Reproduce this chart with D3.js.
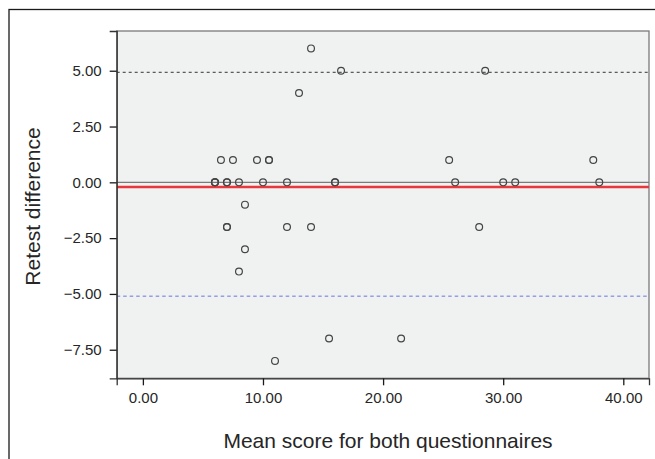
<!DOCTYPE html>
<html>
<head>
<meta charset="utf-8">
<script src="https://cdn.jsdelivr.net/npm/d3@7/dist/d3.min.js"></script>
<style>
  html, body { margin: 0; padding: 0; background: #ffffff; }
  svg { display: block; }
  text { font-family: "Liberation Sans", Arial, sans-serif; fill: #262626; }
</style>
</head>
<body>
<svg id="chart" width="655" height="459"></svg>
<script>
// ---- Data ----
const meanScore = [14, 13, 6.5, 7.5, 9.5, 10.5, 10.5, 6, 6, 6, 7, 7, 8, 10, 12,
                   8.5, 7, 7, 12, 14, 8.5, 8, 11,
                   16.5, 28.5, 25.5, 37.5, 16, 16, 26, 30, 31, 38, 28, 15.5, 21.5];
const retestDiff = [6, 4, 1, 1, 1, 1, 1, 0, 0, 0, 0, 0, 0, 0, 0,
                    -1, -2, -2, -2, -2, -3, -4, -8,
                    5, 5, 1, 1, 0, 0, 0, 0, 0, 0, -2, -7, -7];
const xTicks = [0, 10, 20, 30, 40];
const yTicks = [5, 2.5, 0, -2.5, -5, -7.5];
const zeroLine = 0;
const meanDifference = -0.21;
const upperLimit = 4.93;
const lowerLimit = -5.1;
const xTitle = "Mean score for both questionnaires";
const yTitle = "Retest difference";

// ---- Layout ----
const svg = d3.select("#chart");
const plot = { left: 116.7, top: 31, right: 649, bottom: 378.3 };

const x = d3.scaleLinear().domain([-2.18, 42.14]).range([plot.left, plot.right]);
const y = d3.scaleLinear().domain([-8.78, 6.78]).range([plot.bottom, plot.top]);

// outer frame
svg.append("rect")
  .attr("x", 9).attr("y", 9.5).attr("width", 700).attr("height", 500)
  .attr("fill", "none").attr("stroke", "#1a1a1a").attr("stroke-width", 1.3);

// plot background
svg.append("rect")
  .attr("x", plot.left).attr("y", plot.top)
  .attr("width", plot.right - plot.left).attr("height", plot.bottom - plot.top)
  .attr("fill", "#f0f1f1").attr("stroke", "#7a7a7a").attr("stroke-width", 1.3);

// reference lines
function hline(v, color, width, dash) {
  svg.append("line")
    .attr("x1", plot.left).attr("x2", plot.right)
    .attr("y1", y(v)).attr("y2", y(v))
    .attr("stroke", color).attr("stroke-width", width)
    .attr("stroke-dasharray", dash || null);
}
hline(upperLimit, "#333333", 1, "3,3");
hline(lowerLimit, "#6677dd", 1, "3.5,3");
hline(zeroLine, "#7a7a7a", 1.3);
hline(meanDifference, "#e8383d", 2.6);

// axes
const fontTick = 15;
const xAxis = d3.axisBottom(x).tickValues(xTicks).tickSize(7).tickPadding(7)
  .tickFormat(d3.format(".2f"));
const gx = svg.append("g").attr("transform", `translate(0,${plot.bottom})`).call(xAxis);
gx.select(".domain").attr("stroke", "#333").attr("stroke-width", 1.3);
gx.selectAll(".tick line").attr("stroke", "#1a1a1a").attr("stroke-width", 1.3);
gx.selectAll(".tick text").attr("font-size", fontTick).attr("font-family", "Liberation Sans, Arial, sans-serif").attr("fill", "#262626");

const yAxis = d3.axisLeft(y).tickValues(yTicks).tickSize(7).tickPadding(8)
  .tickFormat(d => d3.format(".2f")(d).replace("-", "\u2212"));
const gy = svg.append("g").attr("transform", `translate(${plot.left},0)`).call(yAxis);
gy.select(".domain").attr("stroke", "#333").attr("stroke-width", 1.3);
gy.selectAll(".tick line").attr("stroke", "#1a1a1a").attr("stroke-width", 1.3);
gy.selectAll(".tick text").attr("font-size", fontTick).attr("font-family", "Liberation Sans, Arial, sans-serif").attr("fill", "#262626");

// points
svg.append("g").selectAll("circle")
  .data(meanScore.map((m, i) => [m, retestDiff[i]]))
  .join("circle")
  .attr("cx", d => x(d[0])).attr("cy", d => y(d[1])).attr("r", 3.4)
  .attr("fill", "none").attr("stroke", "#444444").attr("stroke-width", 1.2);

// titles
svg.append("text")
  .attr("x", 388).attr("y", 447.5).attr("text-anchor", "middle")
  .attr("font-size", 21).text(xTitle);
svg.append("text")
  .attr("transform", `translate(40,206.5) rotate(-90)`).attr("text-anchor", "middle")
  .attr("font-size", 21).text(yTitle);
</script>
</body>
</html>
